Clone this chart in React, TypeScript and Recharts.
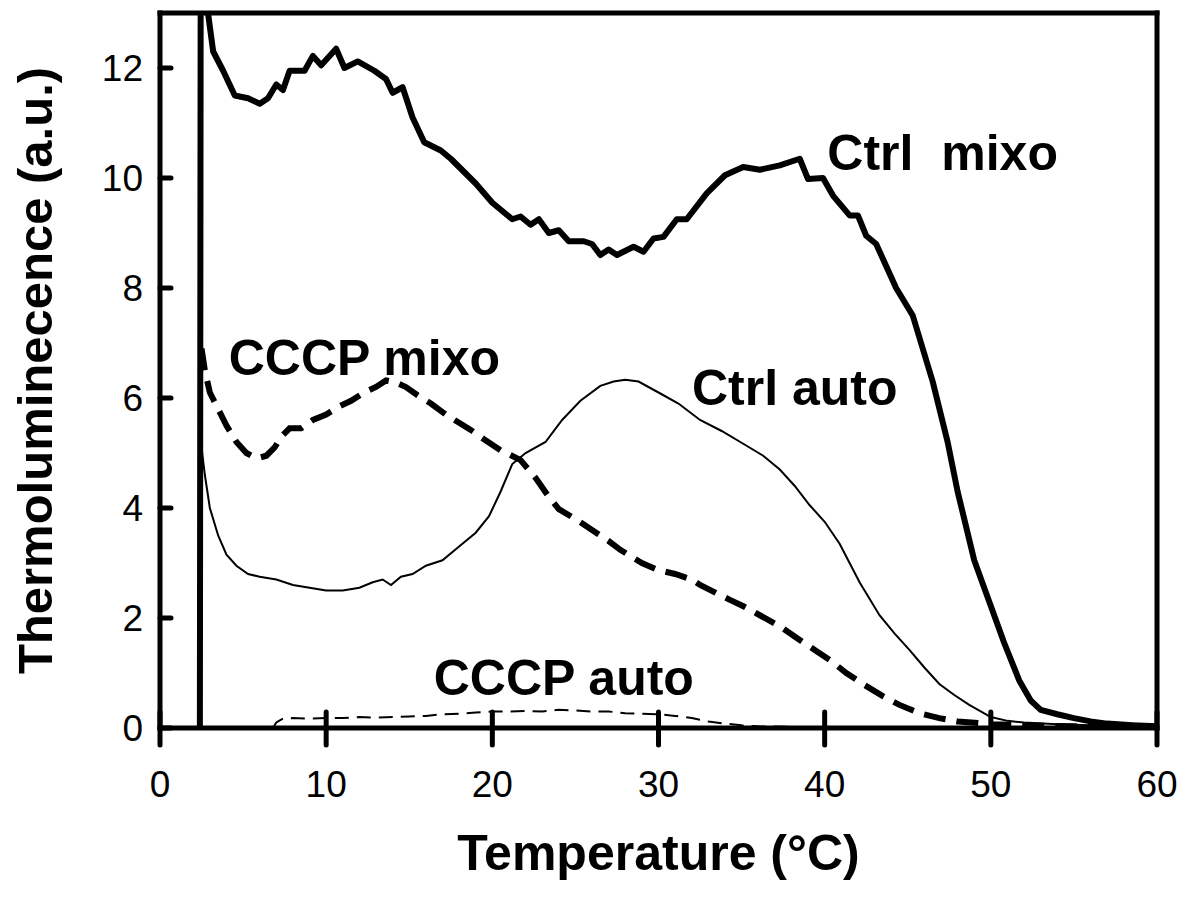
import React from 'react';
import { LineChart, Line, XAxis, YAxis, ReferenceLine, ReferenceDot } from 'recharts';

const FONT = "'Liberation Sans', Arial, Helvetica, sans-serif";

const xTicks = [0, 10, 20, 30, 40, 50, 60];
const yTicks = [0, 2, 4, 6, 8, 10, 12];

// [temperature °C, thermoluminescence a.u.]
const ctrlMixo: [number, number][] = [
  [2.4, 0], [2.45, 14], [2.8, 13.2], [3.2, 12.3], [3.8, 11.95], [4.5, 11.5], [5.3, 11.45],
  [6.0, 11.35], [6.5, 11.45], [7.0, 11.7], [7.4, 11.6], [7.8, 11.95], [8.7, 11.95],
  [9.2, 12.22], [9.7, 12.05], [10.6, 12.35], [11.1, 12.0], [11.9, 12.12], [12.9, 11.95],
  [13.6, 11.8], [14.0, 11.55], [14.6, 11.65], [15.2, 11.1], [15.9, 10.65], [16.9, 10.5],
  [17.5, 10.35], [18.0, 10.2], [19.0, 9.9], [20.0, 9.55], [20.6, 9.4], [21.2, 9.25],
  [21.7, 9.3], [22.3, 9.15], [22.8, 9.25], [23.4, 9.0], [24.0, 9.05], [24.6, 8.85],
  [25.5, 8.85], [26.0, 8.8], [26.5, 8.6], [27.0, 8.7], [27.5, 8.6], [28.5, 8.75],
  [29.1, 8.66], [29.7, 8.9], [30.3, 8.93], [31.1, 9.25], [31.7, 9.25], [32.9, 9.72],
  [34.0, 10.05], [35.1, 10.2], [36.1, 10.15], [37.3, 10.23], [38.5, 10.35], [39.0, 9.98],
  [39.9, 10.0], [40.5, 9.68], [41.5, 9.32], [42.0, 9.32], [42.5, 8.95], [43.1, 8.8],
  [44.3, 8.0], [45.3, 7.5], [46.5, 6.3], [47.4, 5.2], [48.0, 4.3], [49.0, 3.05],
  [49.9, 2.3], [50.8, 1.55], [51.7, 0.87], [52.4, 0.5], [53.0, 0.33], [54.0, 0.25],
  [55.0, 0.18], [56.0, 0.12], [57.0, 0.08], [58.5, 0.05], [60, 0.03],
];

const ctrlAuto: [number, number][] = [
  [2.5, 5.1], [2.7, 4.6], [3.0, 4.0], [3.5, 3.5], [4.0, 3.15], [4.6, 2.95], [5.3, 2.8],
  [6.0, 2.75], [7.0, 2.7], [8.0, 2.6], [9.0, 2.55], [10.0, 2.5], [11.0, 2.5], [12.0, 2.55],
  [12.8, 2.65], [13.4, 2.7], [13.9, 2.6], [14.5, 2.75], [15.2, 2.8], [16.0, 2.95],
  [17.0, 3.05], [18.0, 3.3], [19.0, 3.55], [19.8, 3.85], [20.5, 4.3], [21.2, 4.8],
  [22.0, 5.0], [23.2, 5.2], [24.2, 5.6], [25.3, 5.95], [26.5, 6.22], [27.3, 6.3],
  [28.0, 6.33], [28.8, 6.3], [30.0, 6.1], [31.2, 5.9], [32.5, 5.6], [33.8, 5.4],
  [35.2, 5.15], [36.3, 4.95], [37.3, 4.7], [38.2, 4.4], [39.1, 4.05], [40.0, 3.75],
  [40.9, 3.35], [42.1, 2.65], [43.3, 2.05], [44.2, 1.72], [45.1, 1.42], [46.0, 1.1],
  [46.9, 0.8], [47.8, 0.6], [48.7, 0.42], [50.0, 0.2], [51.0, 0.13], [52, 0.1],
  [54, 0.07], [56, 0.05], [58, 0.03], [60, 0.02],
];

const cccpMixo: [number, number][] = [
  [2.5, 6.9], [2.7, 6.5], [3.0, 6.1], [3.5, 5.8], [4.0, 5.5], [4.6, 5.2], [5.2, 5.0],
  [5.8, 4.9], [6.4, 4.95], [6.9, 5.1], [7.3, 5.3], [7.8, 5.45], [8.5, 5.45], [9.2, 5.6],
  [10.0, 5.7], [10.8, 5.85], [11.5, 5.95], [12.3, 6.1], [13.0, 6.2], [13.6, 6.32],
  [14.2, 6.28], [14.8, 6.2], [15.5, 6.05], [16.3, 5.9], [17.2, 5.7], [18.0, 5.55],
  [18.7, 5.42], [19.5, 5.25], [20.5, 5.05], [21.7, 4.87], [22.6, 4.55], [23.4, 4.2],
  [24.0, 3.98], [25.0, 3.8], [26.0, 3.6], [27.0, 3.4], [27.7, 3.24], [29.0, 3.0],
  [30.0, 2.87], [31.0, 2.8], [32.0, 2.7], [32.5, 2.6], [33.5, 2.45], [34.3, 2.33],
  [35.2, 2.2], [36.1, 2.05], [37.3, 1.85], [38.5, 1.6], [39.4, 1.42], [40.3, 1.24],
  [41.3, 1.0], [42.4, 0.78], [43.5, 0.58], [44.5, 0.42], [45.7, 0.27], [46.9, 0.18],
  [48.0, 0.12], [50.0, 0.07], [52, 0.05], [55, 0.03], [60, 0.01],
];

const cccpAuto: [number, number][] = [
  [6.8, 0], [7.0, 0.1], [7.4, 0.17], [8, 0.18], [9, 0.17], [10, 0.18], [11, 0.18],
  [12, 0.2], [13, 0.19], [14, 0.2], [15, 0.21], [16, 0.22], [17, 0.25], [18, 0.26],
  [19, 0.28], [20, 0.3], [21, 0.3], [22, 0.31], [23, 0.3], [24, 0.33], [25, 0.32],
  [26, 0.3], [27, 0.3], [28, 0.27], [29, 0.26], [30, 0.25], [31, 0.22], [32, 0.18],
  [33, 0.12], [34, 0.08], [35, 0.05], [36, 0.03], [38, 0.02], [40, 0.02], [45, 0.02],
  [50, 0.02], [55, 0.01], [60, 0.01],
];

const annotations = [
  { text: 'Ctrl  mixo', t: 47.1, v: 10.15 },
  { text: 'CCCP mixo', t: 12.3, v: 6.42 },
  { text: 'Ctrl auto', t: 38.2, v: 5.87 },
  { text: 'CCCP auto', t: 24.3, v: 0.6 },
];

const X_MIN = 0;
const X_MAX = 60;
const Y_MIN = 0;
const Y_MAX = 13;

const toPts = (arr: [number, number][]) => arr.map(([t, v]) => ({ t, v }));

const BottomTick = (props: any) => {
  const { x, y, payload } = props;
  return (
    <g>
      <path d={`M${x},${y - 16}L${x},${y + 17}`} stroke="#000" strokeWidth={5} strokeLinecap="round" fill="none" />
      <text x={x} y={y + 69} textAnchor="middle" fontSize={37} fontFamily={FONT} fill="#000" stroke="none">
        {payload.value}
      </text>
    </g>
  );
};

const TopTick = (props: any) => {
  const { x, y, payload } = props;
  if (payload.value === X_MIN || payload.value === X_MAX) return <g />;
  return <path d={`M${x},${y}L${x},${y + 18}`} stroke="#000" strokeWidth={5} strokeLinecap="round" fill="none" />;
};

const LeftTick = (props: any) => {
  const { x, y, payload } = props;
  return (
    <g>
      <path d={`M${x},${y}L${x + 11},${y}`} stroke="#000" strokeWidth={5} strokeLinecap="round" fill="none" />
      <text x={x - 17} y={y + 13} textAnchor="end" fontSize={37} fontFamily={FONT} fill="#000" stroke="none">
        {payload.value}
      </text>
    </g>
  );
};

const XTitle = (props: any) => {
  const vb = props.viewBox;
  return (
    <text x={vb.x + vb.width / 2} y={vb.y + 142} textAnchor="middle" fontSize={50} fontWeight="bold" fontFamily={FONT} fill="#000">
      Temperature (°C)
    </text>
  );
};

const YTitle = (props: any) => {
  const vb = props.viewBox;
  const cx = 44;
  const cy = vb.y + vb.height / 2;
  return (
    <text x={cx} y={cy} transform={`rotate(-90 ${cx} ${cy})`} textAnchor="middle" fontSize={49} fontWeight="bold" fontFamily={FONT} fill="#000">
      Thermoluminecence (a.u.)
    </text>
  );
};

const makeAnnot = (text: string) => (props: any) => {
  const vb = props.viewBox;
  return (
    <text x={vb.x} y={vb.y} textAnchor="middle" fontSize={50} fontWeight="bold" fontFamily={FONT} fill="#000" style={{ whiteSpace: 'pre' }}>
      {text}
    </text>
  );
};

const frameStyle = { stroke: '#000', strokeWidth: 5, strokeLinecap: 'square' as const, ifOverflow: 'visible' as const };

export default function App() {
  return (
    <div style={{ width: 1175, height: 889, background: '#fff' }}>
      <LineChart width={1175} height={889} margin={{ top: 5, right: 26, bottom: 0, left: 0 }}>
        <XAxis
          dataKey="t"
          type="number"
          domain={[X_MIN, X_MAX]}
          ticks={xTicks}
          interval={0}
          allowDataOverflow
          height={169}
          tickSize={0}
          tickMargin={0}
          tickLine={false}
          axisLine={false}
          tick={<BottomTick />}
          label={{ value: 'Temperature (°C)', content: XTitle }}
        />
        <XAxis
          xAxisId="top"
          orientation="top"
          type="number"
          domain={[X_MIN, X_MAX]}
          ticks={xTicks}
          interval={0}
          allowDataOverflow
          height={0}
          tickSize={0}
          tickMargin={0}
          tickLine={false}
          axisLine={false}
          tick={<TopTick />}
        />
        <YAxis
          type="number"
          domain={[Y_MIN, Y_MAX]}
          ticks={yTicks}
          interval={0}
          allowDataOverflow
          width={152}
          tickSize={0}
          tickMargin={0}
          tickLine={false}
          axisLine={false}
          tick={<LeftTick />}
          label={{ value: 'Thermoluminecence (a.u.)', content: YTitle }}
        />
        <ReferenceLine x={X_MIN} {...frameStyle} />
        <ReferenceLine x={X_MAX} {...frameStyle} />
        <ReferenceLine y={Y_MIN} {...frameStyle} />
        <ReferenceLine y={Y_MAX} {...frameStyle} />
        <Line data={toPts(cccpAuto)} dataKey="v" type="linear" stroke="#000" strokeWidth={2} strokeDasharray="14 8" dot={false} activeDot={false} isAnimationActive={false} />
        <Line data={toPts(ctrlAuto)} dataKey="v" type="linear" stroke="#000" strokeWidth={2} dot={false} activeDot={false} isAnimationActive={false} />
        <Line data={toPts(cccpMixo)} dataKey="v" type="linear" stroke="#000" strokeWidth={6} strokeDasharray="22 11" dot={false} activeDot={false} isAnimationActive={false} />
        <Line data={toPts(ctrlMixo)} dataKey="v" type="linear" stroke="#000" strokeWidth={6} strokeLinejoin="round" dot={false} activeDot={false} isAnimationActive={false} />
        {annotations.map((a) => (
          <ReferenceDot key={a.text} x={a.t} y={a.v} r={0} fill="none" stroke="none" label={{ value: a.text, content: makeAnnot(a.text) }} />
        ))}
      </LineChart>
    </div>
  );
}
